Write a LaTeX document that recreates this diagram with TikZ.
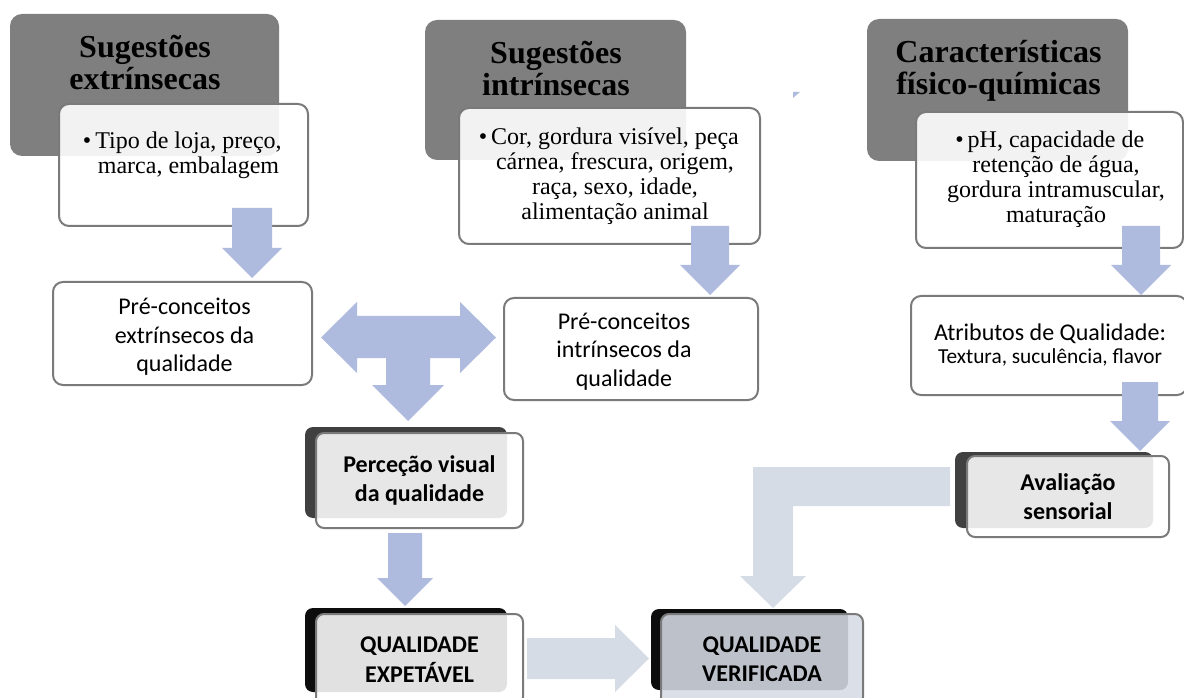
\documentclass[tikz,border=0pt]{standalone}
\usepackage{fontspec}
\setmainfont{Liberation Serif}
\newfontfamily\calibri{Carlito}
\usepackage{tikz}
\usetikzlibrary{calc}
\definecolor{headgray}{RGB}{127,127,127}
\definecolor{linegray}{RGB}{122,122,122}
\definecolor{arrowblue}{RGB}{174,186,222}
\definecolor{arrowpale}{RGB}{214,220,229}
\definecolor{shadowdark}{RGB}{64,64,64}
\definecolor{shadowblack}{RGB}{13,13,13}

\begin{document}
\begin{tikzpicture}[x=0.75pt, y=-0.75pt,
  boxsize/.style 2 args={minimum width=#1*0.75pt, minimum height=#2*0.75pt},
  headbox/.style={rectangle, rounded corners=9pt, fill=headgray, inner sep=0pt},
  headtext/.style={align=center, inner sep=0pt, font=\fontsize{24}{24}\selectfont\bfseries},
  listbox/.style={rectangle, rounded corners=7.5pt, draw=linegray, line width=1.5pt, fill=white, fill opacity=0.9, inner sep=0pt},
  listtext/.style={align=center, inner sep=0pt, font=\fontsize{18}{18.75}\selectfont},
  pretext/.style={align=center, inner sep=0pt, font=\calibri\fontsize{18}{21.5}\selectfont},
  frontbox/.style={rectangle, rounded corners=6pt, draw=linegray, line width=1.5pt, fill=white, fill opacity=0.88, text opacity=1, inner sep=0pt, align=center, font=\calibri\bfseries\fontsize{18}{22}\selectfont}]
  \useasboundingbox (0,0) rectangle (1184,698);
  \clip (0,0) rectangle (1184,698);

  % cue headers
  \node[headbox, boxsize={269}{142}] (exthead) at (144.5,85) {};
  \node[headbox, boxsize={261}{140}] (inthead) at (555.5,90) {};
  \node[headbox, boxsize={261}{142}] (phyhead) at (997.5,90) {};
  \node[headtext] (exttitle) at (145,62.5) {Sugestões\\extrínsecas};
  \node[headtext] (inttitle) at (556,69) {Sugestões\\intrínsecas};
  \node[headtext] (phytitle) at (998.5,70.5) {Características\\físico-químicas};

  % cue lists
  \node[listbox, boxsize={249}{122}] (extlist) at (183.5,165) {};
  \node[listbox, boxsize={301}{136}] (intlist) at (609.5,176) {};
  \node[listbox, boxsize={267}{136}] (phylist) at (1049.5,180) {};
  \node[listtext] (extcues) at (188.5,155) {\llap{\textbullet\hspace{3pt}}Tipo de loja, preço,\\marca, embalagem};
  \node[listtext] (intcues) at (615,176.5) {\llap{\textbullet\hspace{3pt}}Cor, gordura visível, peça\\cárnea, frescura, origem,\\raça, sexo, idade,\\alimentação animal};
  \node[listtext] (phycues) at (1056,179.5) {\llap{\textbullet\hspace{3pt}}pH, capacidade de\\retenção de água,\\gordura intramuscular,\\maturação};

  % pre-concepts and attributes
  \node[listbox, fill opacity=1, boxsize={259}{103}] (extpre) at (182.5,333.5) {};
  \node[listbox, fill opacity=1, boxsize={254}{102}] (intpre) at (631,349) {};
  \node[listbox, fill opacity=1, boxsize={276}{99}] (attrib) at (1049,345.5) {};
  \node[pretext] (extpretext) at (184.5,337) {Pré-conceitos\\extrínsecos da\\qualidade};
  \node[pretext] (intpretext) at (624,351.5) {Pré-conceitos\\intrínsecos da\\qualidade};
  \node[pretext, font=\calibri\fontsize{18}{17}\selectfont] (attribtext) at (1050,345) {Atributos de Qualidade:\\{\fontsize{16}{17}\selectfont Textura, suculência, flavor}};

  % shadowed boxes
  \fill[shadowdark, rounded corners=6pt] (305,427) rectangle (507,518);
  \fill[shadowdark, rounded corners=6pt] (955,452) rectangle (1153,528);
  \fill[shadowblack, rounded corners=6pt] (305,608) rectangle (507,692);
  \fill[shadowblack, rounded corners=6pt] (651,609) rectangle (848,690);
  \node[frontbox, boxsize={207}{95}] (visual) at (419.5,480.5) {Perceção visual\\da qualidade};
  \node[frontbox, boxsize={202}{81}] (sensory) at (1068,496.5) {Avaliação\\sensorial};
  \node[frontbox, boxsize={207}{91}] (expected) at (419.5,659.5) {QUALIDADE\\EXPETÁVEL};
  \node[frontbox, fill=arrowpale, boxsize={202}{91}] (verified) at (762,659.5) {QUALIDADE\\VERIFICADA};

  % down arrows
  \foreach \cx/\ya/\yb/\yc/\sw/\hw in {252/208/248/278/20/30, 710/226/265/295/19/30, 1141/226/265/295/19/30, 1140/382/421/451/18/30, 405/533/578/606/17/28}{
    \fill[arrowblue] (\cx-\sw,\ya) -- (\cx+\sw,\ya) -- (\cx+\sw,\yb) -- (\cx+\hw,\yb)
      -- (\cx,\yc) -- (\cx-\hw,\yb) -- (\cx-\sw,\yb) -- cycle;
  }
  % three-way arrow
  \fill[arrowblue] (321,337.5) -- (357,302) -- (357,316) -- (460,316) -- (460,302)
    -- (496,337.5) -- (460,373) -- (460,358) -- (430,358) -- (430,385) -- (444,385)
    -- (408,421) -- (372,385) -- (386,385) -- (386,358) -- (357,358) -- (357,373) -- cycle;
  \fill[arrowblue] (793,92) -- (800,92) -- (793,98) -- cycle;
  % pale arrows
  \fill[arrowpale] (950,467) -- (753,467) -- (753,576) -- (740,576) -- (773,608)
    -- (806,576) -- (793,576) -- (793,506) -- (950,506) -- cycle;
  \fill[arrowpale] (527,638) -- (615,638) -- (615,625) -- (649,658.5) -- (615,692)
    -- (615,679) -- (527,679) -- cycle;
\end{tikzpicture}
\end{document}
